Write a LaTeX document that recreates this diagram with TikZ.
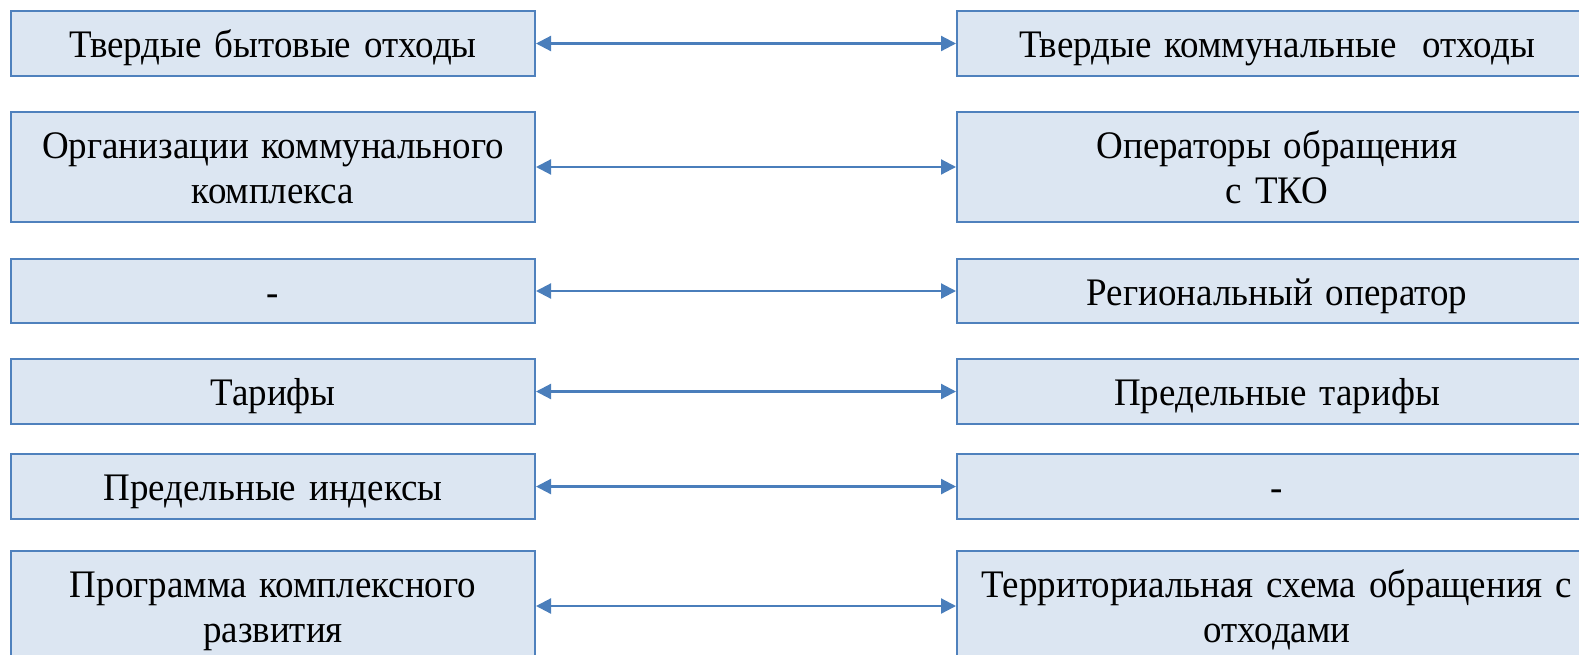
\documentclass[tikz,border=0pt]{standalone}
\usepackage{fontspec}
\setmainfont[FakeStretch=0.948, WordSpace=0.68]{Liberation Serif}
\usetikzlibrary{arrows.meta}
\definecolor{boxfill}{HTML}{DCE6F2}
\definecolor{boxline}{HTML}{4F81BD}
\definecolor{arrowc}{HTML}{4A7EBB}
\newcommand{\topstrut}{\rule{0pt}{37pt}}
\newcommand{\botstrut}{\rule[-9pt]{0pt}{9pt}}
\tikzset{
  cell/.style={draw=boxline, fill=boxfill, line width=2pt, anchor=north west,
    inner sep=0pt, align=center, font=\fontsize{39}{44.9}\selectfont,
    execute at begin node=\topstrut, execute at end node=\botstrut},
  lcell/.style={cell, minimum width=524pt, text width=520pt},
  rcell/.style={cell, minimum width=640pt, text width=630pt},
  link/.style={draw=arrowc, line width=2.2pt,
    {Triangle[length=15pt,width=15pt]}-{Triangle[length=15pt,width=15pt]}}
}
\begin{document}
\begin{tikzpicture}[x=1pt,y=-1pt]
\useasboundingbox (0,0) rectangle (1579,654);
\clip (0,0) rectangle (1579,654);
% row 1
\node[lcell, minimum height=65pt] (l1) at (10,10) {Твердые бытовые отходы};
\node[rcell, minimum height=65pt] (r1) at (956,10) {Твердые коммунальные\ \ отходы};
% row 2
\node[lcell, minimum height=110pt] (l2) at (10,111) {Организации коммунального\\комплекса};
\node[rcell, minimum height=110pt] (r2) at (956,111) {Операторы обращения\\с ТКО};
% row 3
\node[lcell, minimum height=64pt] (l3) at (10,258) {-};
\node[rcell, minimum height=64pt] (r3) at (956,258) {Региональный оператор};
% row 4
\node[lcell, minimum height=65pt] (l4) at (10,358) {Тарифы};
\node[rcell, minimum height=65pt] (r4) at (956,358) {Предельные тарифы};
% row 5
\node[lcell, minimum height=65pt] (l5) at (10,453) {Предельные индексы};
\node[rcell, minimum height=65pt] (r5) at (956,453) {-};
% row 6
\node[lcell, minimum height=110pt] (l6) at (10,550) {Программа комплексного\\развития};
\node[rcell, minimum height=110pt] (r6) at (956,550) {Территориальная схема обращения с\\отходами};
% connectors
\foreach \i in {1,...,6} {
  \draw[link] (l\i.east) -- (r\i.west);
}
\end{tikzpicture}
\end{document}
